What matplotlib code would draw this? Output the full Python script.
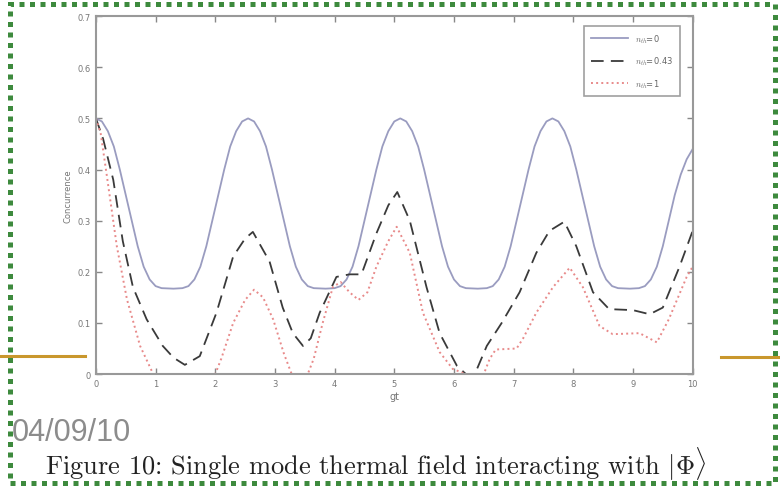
import numpy as np
import matplotlib
matplotlib.use('Agg')
import matplotlib.pyplot as plt
from matplotlib.patches import Rectangle
from matplotlib.lines import Line2D

# ====== data ======
gt_n0 = [0, 0.1, 0.2, 0.3, 0.4, 0.5, 0.6, 0.7, 0.8, 0.9, 1.0, 1.1, 1.3, 1.45, 1.55,
         1.65, 1.75, 1.85, 1.95, 2.05, 2.15, 2.25, 2.35, 2.45, 2.55, 2.65, 2.75, 2.85,
         2.95, 3.05, 3.15, 3.25, 3.35, 3.45, 3.55, 3.65, 3.85, 4.0, 4.1, 4.2, 4.3, 4.4,
         4.5, 4.6, 4.7, 4.8, 4.9, 5.0, 5.1, 5.2, 5.3, 5.4, 5.5, 5.6, 5.7, 5.8, 5.9, 6.0,
         6.1, 6.2, 6.4, 6.55, 6.65, 6.75, 6.85, 6.95, 7.05, 7.15, 7.25, 7.35, 7.45, 7.55,
         7.65, 7.75, 7.85, 7.95, 8.05, 8.15, 8.25, 8.35, 8.45, 8.55, 8.65, 8.75, 8.95,
         9.1, 9.2, 9.3, 9.4, 9.5, 9.6, 9.7, 9.8, 9.9, 10.0]
c_n0 = [0.50, 0.494, 0.475, 0.445, 0.40, 0.35, 0.30, 0.25, 0.21, 0.185, 0.172, 0.168,
        0.167, 0.168, 0.172, 0.185, 0.21, 0.25, 0.30, 0.35, 0.40, 0.445, 0.475, 0.494,
        0.50, 0.494, 0.475, 0.445, 0.40, 0.35, 0.30, 0.25, 0.21, 0.185, 0.172, 0.168,
        0.167, 0.168, 0.172, 0.185, 0.21, 0.25, 0.30, 0.35, 0.40, 0.445, 0.475, 0.494,
        0.50, 0.494, 0.475, 0.445, 0.40, 0.35, 0.30, 0.25, 0.21, 0.185, 0.172, 0.168,
        0.167, 0.168, 0.172, 0.185, 0.21, 0.25, 0.30, 0.35, 0.40, 0.445, 0.475, 0.494,
        0.50, 0.494, 0.475, 0.445, 0.40, 0.35, 0.30, 0.25, 0.21, 0.185, 0.172, 0.168,
        0.167, 0.168, 0.172, 0.185, 0.21, 0.25, 0.30, 0.35, 0.39, 0.42, 0.44]

gt_n043 = [0, 0.12, 0.29, 0.45, 0.62, 0.85, 1.12, 1.3, 1.49, 1.74, 2.02, 2.3, 2.5,
           2.63, 2.91, 3.13, 3.3, 3.47, 3.6, 3.75, 4.03, 4.25, 4.45, 4.7, 4.9, 5.05,
           5.26, 5.54, 5.76, 6.05, 6.2, 6.35, 6.55, 6.8, 7.1, 7.38, 7.6, 7.85, 8.05,
           8.33, 8.6, 9.0, 9.28, 9.5, 9.78, 10.0]
c_n043 = [0.50, 0.46, 0.38, 0.26, 0.17, 0.107, 0.055, 0.032, 0.018, 0.035, 0.12, 0.23,
          0.265, 0.278, 0.22, 0.13, 0.08, 0.055, 0.07, 0.12, 0.19, 0.195, 0.195, 0.275,
          0.33, 0.356, 0.30, 0.17, 0.08, 0.016, 0.0, 0.0, 0.055, 0.10, 0.16, 0.237,
          0.28, 0.298, 0.25, 0.16, 0.127, 0.125, 0.117, 0.13, 0.21, 0.28]

gt_n1 = [0, 0.08, 0.18, 0.35, 0.52, 0.74, 0.96, 1.5, 2.0, 2.1, 2.3, 2.5, 2.65, 2.8,
         2.97, 3.15, 3.28, 3.55, 3.65, 3.8, 3.97, 4.1, 4.25, 4.4, 4.55, 4.7, 4.9, 5.04,
         5.26, 5.48, 5.76, 5.98, 6.2, 6.5, 6.6, 6.7, 7.05, 7.16, 7.38, 7.66, 7.94,
         8.16, 8.44, 8.66, 9.11, 9.4, 9.6, 9.9, 10.0]
c_n1 = [0.50, 0.47, 0.39, 0.25, 0.146, 0.055, 0.0, 0.0, 0.0, 0.03, 0.10, 0.145, 0.165,
        0.15, 0.107, 0.04, 0.0, 0.0, 0.03, 0.10, 0.17, 0.18, 0.16, 0.145, 0.16, 0.21,
        0.26, 0.288, 0.237, 0.12, 0.043, 0.01, 0.0, 0.0, 0.03, 0.048, 0.05, 0.07, 0.12,
        0.17, 0.208, 0.17, 0.094, 0.078, 0.08, 0.062, 0.107, 0.19, 0.21]

labels = [r'$n_{th}$=0', r'$n_{th}$=0.43', r'$n_{th}$=1']

plt.rcParams['mathtext.fontset'] = 'cm'

fig = plt.figure(figsize=(7.8, 4.89), dpi=100)
ax = fig.add_axes([0.123, 0.233, 0.765, 0.732])

ax.plot(gt_n0, c_n0, '-', color='#9a9cc0', lw=1.3, label=labels[0])
ax.plot(gt_n043, c_n043, '--', color='#3a3a3a', lw=1.3, dashes=(7, 4), label=labels[1])
ax.plot(gt_n1, c_n1, ':', color='#e88a8a', lw=1.4, label=labels[2])

ax.set_xlim(0, 10)
ax.set_ylim(0, 0.7)
ax.set_xticks(range(0, 11))
ax.set_yticks(np.arange(0, 0.71, 0.1))
ax.set_yticklabels(['0', '0.1', '0.2', '0.3', '0.4', '0.5', '0.6', '0.7'])
ax.tick_params(direction='in', top=True, right=True, length=4, width=1,
               colors='#888888', labelsize=6, labelcolor='#777777')
for s in ax.spines.values():
    s.set_color('#999999')
    s.set_linewidth(1.5)
ax.set_xlabel('gt', fontsize=7, color='#777777', labelpad=2)
ax.set_ylabel('Concurrence', fontsize=6, color='#777777', labelpad=4)

leg = ax.legend(loc='upper right', bbox_to_anchor=(0.985, 0.985), fontsize=6,
                frameon=True, fancybox=False, handlelength=4.5, borderpad=0.8,
                labelspacing=1.2, labelcolor='#666666')
leg.get_frame().set_edgecolor('#888888')
leg.get_frame().set_linewidth(1.2)

# slide decorations
fig.add_artist(Rectangle((10 / 780, 5 / 489), 765 / 780, 479 / 489, transform=fig.transFigure,
                         fill=False, edgecolor='#3d8a3d', lw=3.6, linestyle=(0, (1, 1.1))))
fig.add_artist(Line2D([0, 85 / 780], [1 - 357 / 489] * 2, color='#c9972d', lw=2.2))
fig.add_artist(Line2D([721 / 780, 1], [1 - 358 / 489] * 2, color='#c9972d', lw=2.2))

fig.text(12 / 780, 1 - 433 / 489, '04/09/10', fontsize=22, color='#8c8c8c',
         family='Liberation Sans', va='center', ha='left')
fig.text(45 / 780, 1 - 464 / 489, r'Figure 10: Single mode thermal field interacting with $|\Phi\rangle$',
         fontsize=19, family='cmr10', color='#222222', va='center', ha='left')

plt.savefig('out.png', dpi=100)
plt.close()
